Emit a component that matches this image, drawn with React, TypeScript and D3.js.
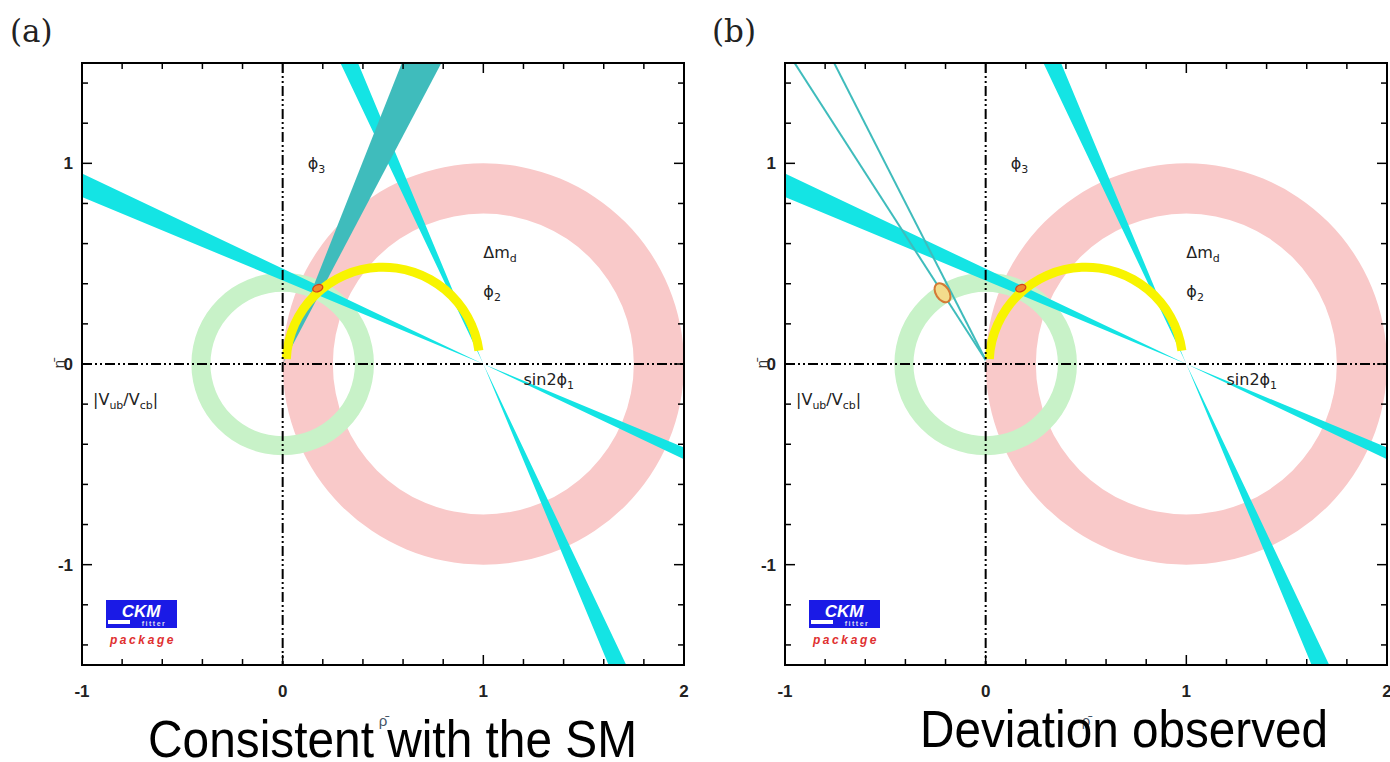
import React from "react";
import * as d3 from "d3";

// values (rho-bar / eta-bar plane)
const panelTags = ["(a)", "(b)"];
const captions = ["Consistent with the SM", "Deviation observed"];
const xTickLabels = [-1, 0, 1, 2];
const yTickLabels = [-1, 0, 1];
const dmdRadii = [0.75, 1.0]; // ring around (1,0)
const vubRadii = [0.36, 0.455]; // ring around (0,0)
const phi1Deg = [22.6, 25.4]; // sin2phi1 band, both solutions
const phi3DegA = [62.2, 68.4]; // filled wedge, panel a
const phi3DegB = [116.9, 122.6]; // outline wedge, panel b
const phi2Radii = [0.46, 0.505]; // arc around (0.5,0)
const phi2ArcDeg = [8, 177];
const fitA = [{ rho: 0.175, eta: 0.378, rx: 0.026, ry: 0.017, rot: -20, big: false }];
const fitB = [
  { rho: 0.175, eta: 0.378, rx: 0.026, ry: 0.017, rot: -20, big: false },
  { rho: -0.215, eta: 0.355, rx: 0.052, ry: 0.033, rot: 57, big: true },
];

const W = 602;
const H = 602;
const x = d3.scaleLinear().domain([-1, 2]).range([0, W]);
const y = d3.scaleLinear().domain([-1.5, 1.5]).range([H, 0]);
const k = x(1) - x(0);
const rad = (d: number) => (d * Math.PI) / 180;

const cyan = "#14e4e4";
const teal = "#3fbcbc";
const pink = "#f9c9c9";
const green = "#c8f2c8";
const yellow = "#f8f400";

function ring(r: number[]) {
  return d3.arc()({ innerRadius: r[0] * k, outerRadius: r[1] * k, startAngle: 0, endAngle: 2 * Math.PI } as any) as string;
}

// band of lines through (px,py) with directions a0..a1 (degrees), optionally both sides
function wedge(px: number, py: number, a: number[], both: boolean) {
  const L = 6;
  const d = (t: number, s: number) => [px + s * L * Math.cos(rad(t)), py + s * L * Math.sin(rad(t))];
  let pts: number[][] = [[px, py], d(a[0], 1), d(a[1], 1)];
  if (both) pts = pts.concat([[px, py], d(a[0], -1), d(a[1], -1)]);
  const line = d3
    .line()
    .x((p: any) => x(p[0]))
    .y((p: any) => y(p[1]));
  return line(pts as any) + "Z";
}

function Sub({ t }: { t: string }) {
  return (
    <tspan fontSize={11} dy={4}>
      {t}
    </tspan>
  );
}

function Panel({ ox, idx }: { ox: number; idx: number }) {
  const oy = 63;
  const clip = "clip" + idx;
  const fits = idx === 0 ? fitA : fitB;
  const xt = d3.range(-1, 2.001, 0.2);
  const yt = d3.range(-1.4, 1.401, 0.2);
  const isMajor = (v: number) => Math.abs(v - Math.round(v)) < 1e-6;
  const ln = d3.line().x((p: any) => x(p[0])).y((p: any) => y(p[1]));

  return (
    <g transform={`translate(${ox},${oy})`}>
      <defs>
        <clipPath id={clip}>
          <rect x={0} y={0} width={W} height={H} />
        </clipPath>
      </defs>
      <g clipPath={`url(#${clip})`}>
        <path d={ring(dmdRadii)} transform={`translate(${x(1)},${y(0)})`} fill={pink} />
        <path d={ring(vubRadii)} transform={`translate(${x(0)},${y(0)})`} fill={green} />
        <path d={wedge(1, 0, [180 - phi1Deg[0], 180 - phi1Deg[1]], true)} fill={cyan} />
        <path d={wedge(1, 0, [90 + phi1Deg[0], 90 + phi1Deg[1]], true)} fill={cyan} />
        {idx === 0 ? (
          <path d={wedge(0, 0, phi3DegA, false)} fill={teal} />
        ) : (
          phi3DegB.map((a, i) => (
            <path
              key={i}
              d={ln([[0.0, 0.02], [4 * Math.cos(rad(a)), 4 * Math.sin(rad(a))]] as any) as string}
              stroke={teal}
              strokeWidth={2}
              fill="none"
            />
          ))
        )}
        <path
          d={
            d3.arc()({
              innerRadius: phi2Radii[0] * k,
              outerRadius: phi2Radii[1] * k,
              startAngle: rad(90 - phi2ArcDeg[1]),
              endAngle: rad(90 - phi2ArcDeg[0]),
            } as any) as string
          }
          transform={`translate(${x(0.5)},${y(0)})`}
          fill={yellow}
        />
        {fits.map((f, i) => (
          <ellipse
            key={i}
            cx={0}
            cy={0}
            rx={f.rx * k}
            ry={f.ry * k}
            transform={`translate(${x(f.rho)},${y(f.eta)}) rotate(${f.rot})`}
            fill={f.big ? "#f3dc8c" : "#f08a2c"}
            stroke={f.big ? "#d47a36" : "#d2401c"}
            strokeWidth={f.big ? 2 : 1.2}
          />
        ))}
      </g>

      {/* zero axes */}
      <line x1={x(0)} x2={x(0)} y1={0} y2={H} stroke="#000" strokeWidth={2} strokeDasharray="10,3,2,3,2,3" />
      <line x1={0} x2={W} y1={y(0)} y2={y(0)} stroke="#000" strokeWidth={2} strokeDasharray="10,3,2,3,2,3" />

      {/* frame + ticks */}
      <rect x={0} y={0} width={W} height={H} fill="none" stroke="#000" strokeWidth={2} />
      {xt.map((v, i) => {
        const l = isMajor(v) ? 10 : 6;
        return (
          <g key={"x" + i} stroke="#000" strokeWidth={1.5}>
            <line x1={x(v)} x2={x(v)} y1={H} y2={H - l} />
            <line x1={x(v)} x2={x(v)} y1={0} y2={l} />
          </g>
        );
      })}
      {yt.map((v, i) => {
        const l = isMajor(v) ? 10 : 6;
        return (
          <g key={"y" + i} stroke="#000" strokeWidth={1.5}>
            <line x1={0} x2={l} y1={y(v)} y2={y(v)} />
            <line x1={W} x2={W - l} y1={y(v)} y2={y(v)} />
          </g>
        );
      })}
      {xTickLabels.map((v) => (
        <text key={"xl" + v} x={x(v)} y={H + 32} textAnchor="middle" fontSize={17} fontWeight="bold" fill="#222">
          {v}
        </text>
      ))}
      {yTickLabels.map((v) => (
        <text key={"yl" + v} x={-9} y={y(v)} dy="0.36em" textAnchor="end" fontSize={17} fontWeight="bold" fill="#222">
          {v}
        </text>
      ))}
      <text x={W / 2} y={H + 61} textAnchor="middle" fontSize={15} fill="#456">
        ρ̄
      </text>
      <text transform={`translate(-18,${y(0)}) rotate(-90)`} textAnchor="middle" fontSize={15} fill="#333">
        η̄
      </text>

      {/* band labels */}
      <g fontSize={16} fill="#222" fontFamily="'DejaVu Sans', sans-serif">
        <text x={x(0.125)} y={y(0.97)}>
          ϕ<Sub t="3" />
        </text>
        <text x={x(1.0)} y={y(0.53)}>
          Δm<Sub t="d" />
        </text>
        <text x={x(1.0)} y={y(0.335)}>
          ϕ<Sub t="2" />
        </text>
        <text x={x(1.2)} y={y(-0.105)}>
          sin2ϕ<Sub t="1" />
        </text>
        <text x={x(-0.945)} y={y(-0.205)}>
          |V<Sub t="ub" />
          <tspan dy={-4}>/V</tspan>
          <Sub t="cb" />
          <tspan dy={-4}>|</tspan>
        </text>
      </g>

      {/* CKMfitter logo */}
      <g transform="translate(24,537)">
        <rect x={0} y={0} width={71} height={28} fill="#1a1ae6" />
        <text x={35} y={17} textAnchor="middle" fontSize={17} fontWeight="bold" fontStyle="italic" fill="#fff">
          CKM
        </text>
        <rect x={2} y={20} width={22} height={4} fill="#fff" />
        <text x={48} y={26} textAnchor="middle" fontSize={7} fontWeight="bold" fill="#dde" letterSpacing={1.5}>
          fitter
        </text>
        <text x={37} y={44} textAnchor="middle" fontSize={12} fontWeight="bold" fontStyle="italic" fill="#e03030" letterSpacing={2.6}>
          package
        </text>
      </g>
    </g>
  );
}

export default function App() {
  return (
    <svg
      width={1390}
      height={762}
      style={{ position: "absolute", left: 0, top: 0, background: "#fff" }}
      fontFamily="'Liberation Sans', Arial, sans-serif"
    >
      <Panel ox={82} idx={0} />
      <Panel ox={785} idx={1} />
      <text x={10} y={42} fontSize={31} fontFamily="'DejaVu Serif', serif" fill="#222">
        {panelTags[0]}
      </text>
      <text x={712} y={42} fontSize={31} fontFamily="'DejaVu Serif', serif" fill="#222">
        {panelTags[1]}
      </text>
      <text x={148} y={757} fontSize={52} textLength={489} lengthAdjust="spacingAndGlyphs" fill="#000">
        {captions[0]}
      </text>
      <text x={920} y={747} fontSize={52} textLength={408} lengthAdjust="spacingAndGlyphs" fill="#000">
        {captions[1]}
      </text>
    </svg>
  );
}
